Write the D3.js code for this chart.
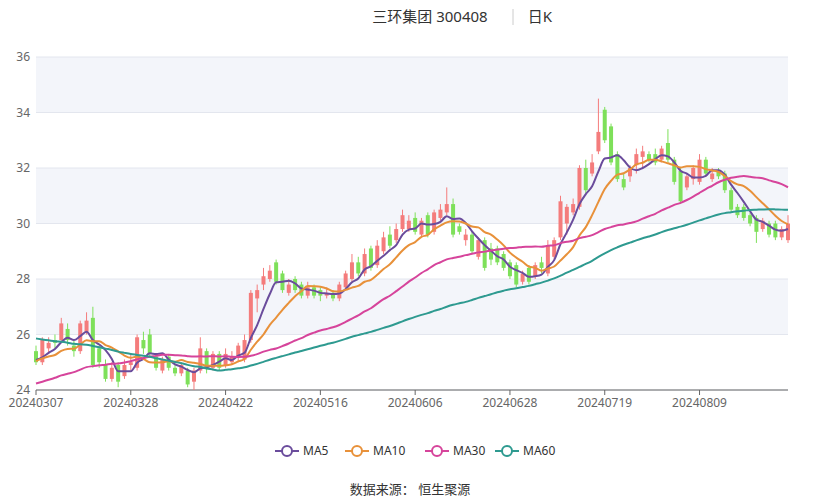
<!DOCTYPE html>
<html><head><meta charset="utf-8">
<script src="https://cdn.jsdelivr.net/npm/d3@7/dist/d3.min.js"></script>
<style>body{margin:0;background:#fff;font-family:"Noto Sans","Noto Sans CJK SC",sans-serif}</style>
</head><body><svg id="chart" width="820" height="500"></svg>
<script>
// [open, close, low, high] per trading day, 20240307 .. 20240829
const candles = [
  [25.4,25.0,24.9,25.6],[25.0,25.8,24.9,25.9],[25.5,25.7,25.3,25.9],[25.8,25.7,25.5,26.0],[25.8,26.4,25.7,26.6],
  [26.2,25.8,25.6,26.4],[25.6,25.4,25.2,25.8],[25.4,26.4,25.3,26.5],[26.1,26.5,26.0,26.8],[26.6,24.9,24.8,27.0],
  [25.5,25.0,24.8,25.6],[24.9,24.4,24.3,25.1],[24.4,24.8,24.3,25.0],[24.9,24.3,24.1,25.0],[24.5,24.9,24.4,25.1],
  [24.9,25.0,24.7,25.3],[24.8,25.9,24.7,26.0],[25.8,25.5,25.3,26.1],[26.0,25.3,25.2,26.2],[25.2,24.8,24.7,25.3],
  [24.7,25.1,24.6,25.2],[25.2,24.8,24.7,25.3],[24.8,24.6,24.5,24.9],[24.6,24.9,24.5,25.0],[24.7,24.2,24.1,24.8],
  [24.3,24.7,24.0,24.8],[24.7,25.5,24.6,25.9],[25.4,24.8,24.6,25.5],[24.8,25.3,24.7,25.4],[25.3,24.8,24.7,25.4],
  [24.9,25.3,24.8,25.5],[25.0,25.2,24.9,25.4],[25.2,25.6,25.0,25.7],[25.1,25.8,25.0,26.0],[25.8,27.5,25.7,27.6],
  [27.3,27.6,26.8,27.8],[27.8,28.1,27.6,28.4],[28.0,28.3,27.9,28.5],[28.6,27.9,27.8,28.7],[28.2,27.6,27.5,28.3],
  [27.5,27.8,27.4,28.0],[28.0,27.6,27.5,28.1],[27.8,27.4,27.3,27.9],[27.4,27.7,27.3,27.9],[27.7,27.4,27.3,27.8],
  [27.6,27.4,27.2,27.7],[27.4,27.5,27.3,27.7],[27.5,27.3,27.2,27.6],[27.3,27.8,27.2,27.9],[27.7,28.2,27.6,28.3],
  [28.0,28.6,27.9,28.9],[28.6,28.2,28.1,28.8],[28.2,28.9,28.1,29.1],[29.1,28.4,28.3,29.2],[28.5,29.2,28.4,29.4],
  [29.0,29.5,28.9,29.7],[29.6,29.2,29.1,29.9],[29.4,29.8,29.3,30.0],[29.8,30.3,29.7,30.5],[29.8,30.1,29.7,30.3],
  [30.2,29.7,29.6,30.4],[29.6,30.1,29.5,30.2],[30.3,29.6,29.5,30.4],[29.7,30.4,29.6,30.5],[30.2,30.5,30.1,30.7],
  [30.4,30.7,30.3,31.3],[30.7,29.6,29.5,30.9],[29.9,29.7,29.6,30.0],[29.4,29.6,29.2,29.8],[29.6,29.0,28.9,29.7],
  [28.8,29.4,28.7,29.5],[29.4,28.4,28.3,29.5],[29.1,28.7,28.5,29.3],[29.1,28.6,28.5,29.2],[28.9,28.4,28.3,29.0],
  [28.6,28.1,28.0,28.7],[28.5,27.8,27.7,28.6],[27.9,28.2,27.8,28.3],[28.4,27.9,27.8,28.5],[28.1,28.5,28.0,28.6],
  [28.6,28.4,28.2,28.8],[28.2,29.2,28.1,29.4],[28.8,29.4,28.7,29.5],[29.5,30.8,29.4,31.0],[30.0,30.6,29.6,30.7],
  [30.4,30.7,30.3,30.9],[30.6,32.0,30.5,32.1],[32.0,31.2,31.1,32.3],[31.8,32.2,31.7,32.5],[32.6,33.3,32.5,34.5],
  [34.1,33.0,32.9,34.2],[33.5,32.2,32.1,33.6],[32.5,31.6,31.5,32.6],[31.6,31.3,31.2,31.8],[31.7,32.0,31.5,32.1],
  [32.1,32.5,31.8,32.7],[32.4,32.6,32.0,32.8],[32.5,32.3,32.2,32.6],[32.5,32.2,32.1,32.7],[32.3,32.7,32.2,32.8],
  [32.9,32.3,32.2,33.4],[32.3,31.5,31.4,32.4],[31.9,30.8,30.7,32.0],[31.3,31.7,31.2,31.8],[31.6,32.0,31.4,32.1],
  [31.5,32.3,31.4,32.5],[32.3,31.8,31.7,32.4],[31.6,31.8,31.5,32.0],[31.9,31.7,31.6,32.0],[31.8,31.2,31.1,31.9],
  [31.2,30.5,30.4,31.3],[30.6,30.3,30.2,30.7],[30.6,30.2,30.1,30.7],[30.3,30.0,29.9,30.4],[30.2,29.7,29.3,30.3],
  [29.8,30.1,29.7,30.2],[30.0,29.6,29.5,30.1],[30.0,29.5,29.4,30.1],[29.5,29.8,29.4,29.9],[29.4,30.0,29.3,30.3]
];
// closes of the 59 sessions before the window (for moving averages)
const priorCloses = [
  27.9,27.6,27.8,27.4,27.7,27.9,27.5,27.3,27.6,27.8,27.4,27.7,27.9,27.6,27.5,27.8,27.4,27.6,27.9,27.7,
  27.5,27.3,27.6,27.8,27.5,27.4,27.7,27.6,27.3,
  23.6,23.9,23.7,23.5,23.8,24.0,23.7,23.6,23.9,23.8,24.1,23.7,23.9,24.0,23.8,23.6,23.9,24.1,23.8,23.9,24.0,
  24.8,25.0,25.2,24.9,25.1,25.3,24.9,25.0,25.2
];
const maPeriods = [5, 10, 30, 60];
const maNames = ["MA5", "MA10", "MA30", "MA60"];
const maColors = ["#6a4c9c", "#e8913a", "#d6449b", "#2e9a90"];
const yTicks = [24, 26, 28, 30, 32, 34, 36];
const holidays = ["2024-04-04","2024-04-05","2024-05-01","2024-05-02","2024-05-03","2024-06-10"];

// trading days
const dates = [];
for (let d = new Date(Date.UTC(2024, 2, 7)); dates.length < candles.length; d.setUTCDate(d.getUTCDate() + 1)) {
  const iso = d.toISOString().slice(0, 10);
  const wd = d.getUTCDay();
  if (wd === 0 || wd === 6 || holidays.includes(iso)) continue;
  dates.push(iso.replace(/-/g, ""));
}

const closes = priorCloses.concat(candles.map(c => c[1]));
const maSeries = maPeriods.map(p => candles.map((c, i) => {
  const end = priorCloses.length + i + 1;
  return d3.mean(closes.slice(end - p, end));
}));

const svg = d3.select("#chart");
const plotL = 36, plotR = 788, plotT = 57, plotB = 390;
const x = d3.scaleLinear().domain([0, candles.length - 1]).range([plotL, plotR]);
const y = d3.scaleLinear().domain([24, 36]).range([plotB, plotT]);

// bands
for (let k = 0; k < yTicks.length - 1; k++) {
  if (k % 2 === 1) svg.append("rect").attr("x", plotL).attr("width", plotR - plotL)
    .attr("y", y(yTicks[k + 1])).attr("height", y(yTicks[k]) - y(yTicks[k + 1])).attr("fill", "#f3f5fa");
}
svg.append("g").selectAll("line").data(yTicks).join("line")
  .attr("x1", plotL).attr("x2", plotR).attr("y1", d => y(d)).attr("y2", d => y(d))
  .attr("stroke", "#e3e6ee");
svg.append("g").selectAll("text").data(yTicks).join("text")
  .attr("x", 30).attr("y", d => y(d) + 4).attr("text-anchor", "end")
  .attr("font-size", 12).attr("fill", "#666").text(d => d);

// x axis
svg.append("line").attr("x1", plotL).attr("x2", plotR).attr("y1", plotB).attr("y2", plotB).attr("stroke", "#666");
const xTickIdx = d3.range(0, candles.length, 15);
svg.append("g").selectAll("line").data(xTickIdx).join("line")
  .attr("x1", d => x(d)).attr("x2", d => x(d)).attr("y1", plotB).attr("y2", plotB + 5).attr("stroke", "#666");
svg.append("g").selectAll("text").data(xTickIdx).join("text")
  .attr("x", d => x(d)).attr("y", plotB + 17).attr("text-anchor", "middle")
  .attr("font-size", 12).attr("fill", "#666").text(d => dates[d]);

// candles
const up = "#f47c7c", down = "#7ee05a";
const g = svg.append("g");
const bw = 4;
g.selectAll("line").data(candles).join("line")
  .attr("x1", (d, i) => x(i)).attr("x2", (d, i) => x(i))
  .attr("y1", d => y(d[3])).attr("y2", d => y(d[2]))
  .attr("stroke", d => d[1] >= d[0] ? up : down).attr("stroke-width", 1);
g.selectAll("rect").data(candles).join("rect")
  .attr("x", (d, i) => x(i) - bw / 2).attr("width", bw)
  .attr("y", d => y(Math.max(d[0], d[1])))
  .attr("height", d => Math.max(1, Math.abs(y(d[0]) - y(d[1]))))
  .attr("fill", d => d[1] >= d[0] ? up : down);

// MA lines
const line = d3.line().x((d, i) => x(i)).y(d => y(d)).curve(d3.curveMonotoneX);
maSeries.forEach((s, k) => {
  svg.append("path").attr("d", line(s)).attr("fill", "none")
    .attr("stroke", maColors[k]).attr("stroke-width", 2);
});

// title
svg.append("text").attr("x", 430).attr("y", 22).attr("text-anchor", "middle")
  .attr("font-size", 15).attr("fill", "#333").text("三环集团 300408");
svg.append("line").attr("x1", 513).attr("x2", 513).attr("y1", 9).attr("y2", 25).attr("stroke", "#ccc");
svg.append("text").attr("x", 540).attr("y", 22).attr("text-anchor", "middle")
  .attr("font-size", 15).attr("fill", "#333").text("日K");

// legend
const legX = [275, 345, 425, 495];
maNames.forEach((n, k) => {
  const lg = svg.append("g").attr("transform", `translate(${legX[k]},451)`);
  lg.append("line").attr("x1", 0).attr("x2", 24).attr("stroke", maColors[k]).attr("stroke-width", 2);
  lg.append("circle").attr("cx", 12).attr("r", 5).attr("fill", "#fff").attr("stroke", maColors[k]).attr("stroke-width", 2);
  lg.append("text").attr("x", 28).attr("y", 4).attr("font-size", 12).attr("fill", "#333").text(n);
});

svg.append("text").attr("x", 410).attr("y", 494).attr("text-anchor", "middle")
  .attr("font-size", 13).attr("fill", "#333").text("数据来源： 恒生聚源");
</script></body></html>
